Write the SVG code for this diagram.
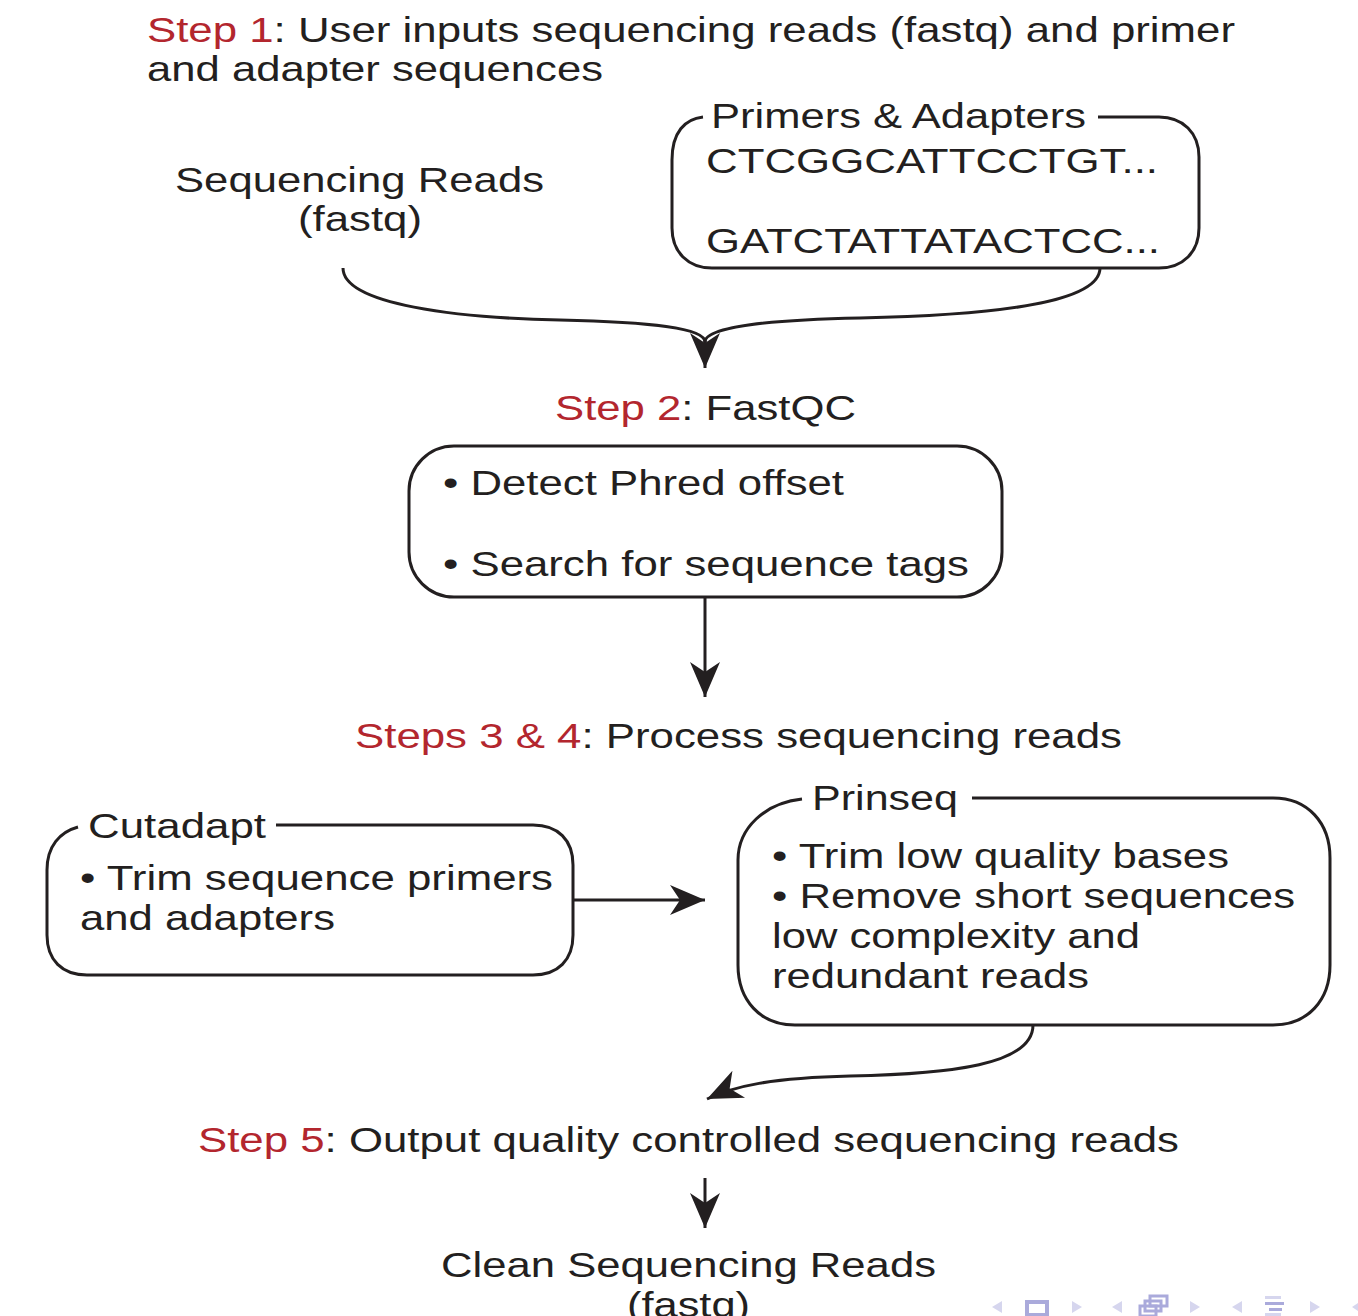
<svg xmlns="http://www.w3.org/2000/svg" width="1358" height="1316" viewBox="0 0 1358 1316">
<style>
text{font-family:"Liberation Sans",Arial,Helvetica,sans-serif;font-size:35px;fill:#231f20}
.red{fill:#b3262e}
.box{fill:none;stroke:#231f20;stroke-width:3}
.con{fill:none;stroke:#231f20;stroke-width:3}
.nav1{fill:#d6d6ee}
.nav2{fill:#aaaadb}
</style>
<defs>
<marker id="ah" markerUnits="userSpaceOnUse" markerWidth="40" markerHeight="40" viewBox="-30 -15 32 30" refX="0" refY="0" orient="auto">
<path d="M0,0 L-28,-12 L-20,0 L-28,12 Z" fill="#231f20"/>
</marker>
</defs>
<rect width="1358" height="1316" fill="#fff"/>

<g id="step1">
<text x="147" y="42" textLength="1088" lengthAdjust="spacingAndGlyphs"><tspan class="red">Step 1</tspan>: User inputs sequencing reads (fastq) and primer</text>
<text x="147" y="81" textLength="456" lengthAdjust="spacingAndGlyphs">and adapter sequences</text>
</g>

<g id="reads">
<text x="175" y="192" textLength="369" lengthAdjust="spacingAndGlyphs">Sequencing Reads</text>
<text x="298" y="231" textLength="124" lengthAdjust="spacingAndGlyphs">(fastq)</text>
</g>

<g id="primers">
<path class="box" d="M703,117 C685,119 672,132 672,160 L672,228 C672,252 688,268 712,268 L1159,268 C1183,268 1199,252 1199,228 L1199,157 C1199,133 1183,117 1159,117 L1098,117"/>
<text x="711" y="128" textLength="375" lengthAdjust="spacingAndGlyphs">Primers &amp; Adapters</text>
<text x="706" y="173" textLength="452" lengthAdjust="spacingAndGlyphs">CTCGGCATTCCTGT...</text>
<text x="706" y="253" textLength="454" lengthAdjust="spacingAndGlyphs">GATCTATTATACTCC...</text>
</g>

<g id="step2">
<text x="555" y="420" textLength="301" lengthAdjust="spacingAndGlyphs"><tspan class="red">Step 2</tspan>: FastQC</text>
</g>

<g id="fastqc">
<rect class="box" x="409" y="446" width="593" height="151" rx="45" ry="45"/>
<text x="443" y="495" textLength="401" lengthAdjust="spacingAndGlyphs">• Detect Phred offset</text>
<text x="443" y="576" textLength="526" lengthAdjust="spacingAndGlyphs">• Search for sequence tags</text>
</g>

<g id="step34">
<text x="355" y="748" textLength="767" lengthAdjust="spacingAndGlyphs"><tspan class="red">Steps 3 &amp; 4</tspan>: Process sequencing reads</text>
</g>

<g id="cutadapt">
<path class="box" d="M78,827 C60,832 47,846 47,870 L47,935 C47,960 62,975 87,975 L533,975 C558,975 573,960 573,935 L573,865 C573,840 558,825 533,825 L276,825"/>
<text x="88" y="838" textLength="178" lengthAdjust="spacingAndGlyphs">Cutadapt</text>
<text x="80" y="890" textLength="473" lengthAdjust="spacingAndGlyphs">• Trim sequence primers</text>
<text x="80" y="930" textLength="255" lengthAdjust="spacingAndGlyphs">and adapters</text>
</g>

<g id="prinseq">
<path class="box" d="M802,799 C765,803 738,828 738,860 L738,965 C738,1000 760,1025 795,1025 L1273,1025 C1308,1025 1330,1000 1330,965 L1330,858 C1330,823 1308,798 1273,798 L972,798"/>
<text x="812" y="810" textLength="146" lengthAdjust="spacingAndGlyphs">Prinseq</text>
<text x="772" y="868" textLength="457" lengthAdjust="spacingAndGlyphs">• Trim low quality bases</text>
<text x="772" y="908" textLength="523" lengthAdjust="spacingAndGlyphs">• Remove short sequences</text>
<text x="772" y="948" textLength="368" lengthAdjust="spacingAndGlyphs">low complexity and</text>
<text x="772" y="988" textLength="317" lengthAdjust="spacingAndGlyphs">redundant reads</text>
</g>

<g id="step5">
<text x="198" y="1152" textLength="981" lengthAdjust="spacingAndGlyphs"><tspan class="red">Step 5</tspan>: Output quality controlled sequencing reads</text>
</g>

<g id="clean">
<text x="441" y="1277" textLength="495" lengthAdjust="spacingAndGlyphs">Clean Sequencing Reads</text>
<text x="627" y="1317" textLength="123" lengthAdjust="spacingAndGlyphs">(fastq)</text>
</g>

<g id="connectors">
<path class="con" d="M343,268 C343,305 460,318 560,320 C650,322 705,328 705,342"/>
<path class="con" d="M1100,268 C1100,302 1000,315 860,318 C760,320 705,328 705,342"/>
<path class="con" d="M705,340 L705,368" marker-end="url(#ah)"/>
<path class="con" d="M705,597 L705,697" marker-end="url(#ah)"/>
<path class="con" d="M573,900 L705,900" marker-end="url(#ah)"/>
<path class="con" d="M1033,1025 C1033,1065 950,1074 850,1076 C770,1078 735,1086 707,1099" marker-end="url(#ah)"/>
<path class="con" d="M705,1178 L705,1228" marker-end="url(#ah)"/>
</g>

<g id="nav">
<path class="nav1" d="M992,1307 L1002,1301 L1002,1313 Z"/>
<rect x="1027" y="1302" width="20" height="13" fill="none" stroke="#aaaadb" stroke-width="4"/>
<path class="nav1" d="M1082,1307 L1072,1301 L1072,1313 Z"/>
<path class="nav1" d="M1112,1307 L1122,1301 L1122,1313 Z"/>
<rect x="1140" y="1306" width="16" height="10" fill="none" stroke="#aaaadb" stroke-width="3"/>
<rect x="1145" y="1301" width="16" height="10" fill="none" stroke="#aaaadb" stroke-width="3"/>
<rect x="1150" y="1296" width="17" height="10" fill="none" stroke="#aaaadb" stroke-width="3"/>
<path class="nav1" d="M1200,1307 L1190,1301 L1190,1313 Z"/>
<path class="nav1" d="M1232,1307 L1242,1301 L1242,1313 Z"/>
<rect class="nav1" x="1265" y="1296" width="16" height="3"/>
<rect class="nav2" x="1265" y="1302" width="19" height="3"/>
<rect class="nav2" x="1269" y="1308" width="13" height="3"/>
<rect class="nav1" x="1265" y="1313" width="16" height="3"/>
<path class="nav1" d="M1320,1307 L1310,1301 L1310,1313 Z"/>
<path class="nav1" d="M1352,1307 L1358,1303 L1358,1311 Z"/>
</g>
</svg>
